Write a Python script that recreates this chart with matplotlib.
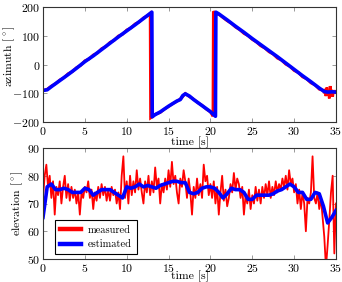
import numpy as np
import matplotlib
matplotlib.use("Agg")
import matplotlib.pyplot as plt

plt.rcParams['font.family'] = 'serif'
plt.rcParams['font.serif'] = ['cmr10', 'DejaVu Serif']
plt.rcParams['mathtext.fontset'] = 'cm'
plt.rcParams['axes.formatter.use_mathtext'] = True
plt.rcParams['axes.unicode_minus'] = True

# ---------------- azimuth data ----------------
az_est_t = [0, 0.5, 1, 2, 3, 4, 5, 6, 7, 8, 9, 10, 11, 12, 13.0, 13.05, 13.3, 14, 15, 16,
            16.4, 16.7, 17.0, 17.5, 18, 19, 20, 20.6, 20.65, 21, 22, 23, 24, 25, 26, 27,
            28, 29, 30, 31, 32, 33, 33.6, 34, 34.5, 35]
az_est = [-90, -88, -77, -56, -35, -13, 10, 30, 52, 74, 96, 117, 138, 160, 182, -182, -176,
          -165, -145, -127, -122, -108, -102, -110, -122, -143, -164, -180, 182, 176, 155,
          133, 112, 90, 69, 48, 27, 5, -17, -39, -60, -82, -94, -96, -95, -96]

az_meas_t = [0, 0.5, 1, 1.5, 2, 2.5, 3, 3.5, 4, 4.5, 5, 5.5, 6, 6.5, 7, 7.5, 8, 8.5, 9, 9.5,
             10, 10.5, 11, 11.5, 12, 12.5, 12.8, 12.85, 13, 13.5, 14, 14.5, 15, 15.5, 16,
             16.5, 17, 17.5, 18, 18.5, 19, 19.5, 20, 20.3, 20.35, 20.5, 21, 21.5, 22, 22.5,
             23, 23.5, 24, 24.5, 25, 25.5, 26, 26.5, 27, 27.5, 28, 28.5, 29, 29.5, 30, 30.5,
             31, 31.5, 32, 32.5, 33, 33.5, 33.6, 33.7, 33.8, 33.9, 34.0, 34.1, 34.2, 34.3,
             34.4, 34.5, 34.6, 34.7, 34.8, 34.9, 35.0]
az_meas = [-91, -86, -75, -67, -54, -46, -32, -25, -11, -3, 13, 19, 33, 40, 55, 62, 77, 84,
           99, 105, 120, 127, 141, 148, 162, 170, 178, -186, -183, -172, -167, -155, -146,
           -136, -128, -118, -101, -112, -121, -133, -142, -155, -165, -180, 185, 180, 175,
           163, 152, 143, 130, 121, 108, 100, 87, 78, 65, 57, 44, 36, 22, 15, 1, -7, -21,
           -28, -43, -50, -64, -71, -86, -90, -100, -85, -110, -80, -105, -92, -118, -75,
           -100, -88, -112, -90, -96, -94, -97]

# ---------------- elevation data ----------------
el_meas = [72, 80, 84, 76, 80, 72, 78, 66, 76, 73,
           78, 70, 76, 80, 72, 77, 71, 76, 72, 75,
           70, 74, 66, 74, 72, 76, 74, 78, 72, 75,
           68, 74, 71, 76, 72, 77, 73, 76, 71, 75,
           71, 76, 73, 75, 70, 74, 68, 80, 87, 72,
           78, 70, 80, 73, 78, 74, 82, 75, 79, 74,
           70, 78, 74, 80, 73, 78, 74, 83, 76, 79,
           70, 77, 74, 79, 75, 82, 76, 85, 77, 80,
           74, 70, 79, 76, 82, 78, 72, 79, 74, 66,
           76, 72, 79, 73, 77, 72, 84, 78, 80, 73,
           77, 72, 78, 70, 76, 66, 74, 80, 71, 75,
           69, 72, 77, 74, 81, 75, 79, 77, 72, 76,
           66, 73, 70, 75, 68, 73, 70, 76, 71, 75,
           70, 76, 72, 77, 73, 78, 72, 76, 73, 78,
           74, 77, 75, 79, 76, 80, 75, 82, 77, 79,
           74, 77, 70, 75, 68, 74, 70, 60, 72, 70,
           74, 87, 72, 70, 74, 68, 72, 65, 58, 47,
           55, 64, 74, 80, 52, 70]
el_meas_t = [0.2 * i for i in range(len(el_meas))]

el_est_t = [0.5 * i for i in range(71)]
el_est = [65, 76, 77, 75, 75, 75.5, 75, 74, 74, 74,
          75.5, 75, 73, 74, 75, 75, 75, 74, 73, 72,
          76, 75.5, 76, 77, 76, 76.5, 76, 75.5, 76.5, 77,
          77.5, 78, 78, 77.5, 77.5, 74, 73.5, 74, 75.5, 76,
          76, 75.5, 74, 72, 73.5, 75.5, 75, 75, 74, 71.5,
          71.5, 73, 73, 73, 73, 73.5, 74.5, 75, 76, 77,
          76, 74, 74, 71.5, 71.5, 74, 73.5, 69, 63, 65,
          67.5]

x_ticks = [0, 5, 10, 15, 20, 25, 30, 35]
az_ticks = [-200, -100, 0, 100, 200]
el_ticks = [50, 60, 70, 80, 90]

W, H = 342, 282
fig = plt.figure(figsize=(W / 100, H / 100), dpi=100)

def frac(l, t, r, b):
    return [l / W, 1 - b / H, (r - l) / W, (b - t) / H]

ax1 = fig.add_axes(frac(43, 7, 336, 122))
ax2 = fig.add_axes(frac(43, 148, 336, 259))

fs = 8.5
for ax in (ax1, ax2):
    ax.set_xlim(0, 35)
    ax.set_xticks(x_ticks)
    ax.tick_params(direction='in', top=True, right=True, length=3, width=0.6,
                   color='#888888', labelsize=fs, pad=2)
    for s in ax.spines.values():
        s.set_color('#333333')
        s.set_linewidth(0.8)
ax1.set_xlabel('time [s]', fontsize=fs, labelpad=0)
ax2.set_xlabel('time [s]', fontsize=fs, labelpad=-2)

ax1.plot(az_meas_t, az_meas, color='red', lw=2.0, solid_joinstyle='miter')
ax1.plot(az_est_t, az_est, color='blue', lw=2.6)
ax1.set_ylim(-200, 200)
ax1.set_yticks(az_ticks)
ax1.set_ylabel(r'azimuth [$^\circ$]', fontsize=fs)
ax1.yaxis.set_label_coords(-0.09, 0.57)

ax2.plot(el_meas_t, el_meas, color='red', lw=1.3, label='measured')
ax2.plot(el_est_t, el_est, color='blue', lw=2.6, label='estimated')
ax2.set_ylim(50, 90)
ax2.set_yticks(el_ticks)
ax2.set_ylabel(r'elevation [$^\circ$]', fontsize=fs)
ax2.yaxis.set_label_coords(-0.06, 0.5)

leg = ax2.legend(loc='lower left', bbox_to_anchor=(0.041, 0.045), borderaxespad=0,
                 fontsize=7.5, fancybox=False, edgecolor='black', framealpha=1,
                 handlelength=2.0, borderpad=0.45, labelspacing=0.5, handletextpad=0.7)
leg.get_frame().set_linewidth(0.8)
for line in leg.get_lines():
    line.set_linewidth(3.2)

fig.savefig('out.png', dpi=100)
